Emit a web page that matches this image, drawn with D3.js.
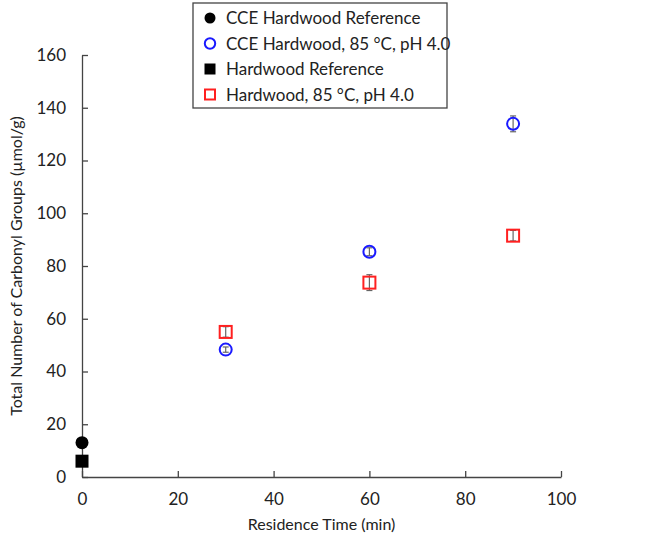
<!DOCTYPE html>
<html>
<head>
<meta charset="utf-8">
<script src="https://cdn.jsdelivr.net/npm/d3@7"></script>
<style>
  body { margin: 0; background: #fff; }
  text { font-family: Lato, "Open Sans", sans-serif; fill: #222; }
</style>
</head>
<body>
<svg id="chart" width="646" height="540"></svg>
<script>
// data
const xTicks = [0, 20, 40, 60, 80, 100];
const yTicks = [0, 20, 40, 60, 80, 100, 120, 140, 160];

const cceRefTime = [0];
const cceRefVal = [13];
const hwRefTime = [0];
const hwRefVal = [6];

const cceTime = [30, 60, 90];
const cceVal = [48.3, 85.4, 133.9];
const cceErr = [1, 1.5, 3];

const hwTime = [30, 60, 90];
const hwVal = [55, 73.7, 91.5];
const hwErr = [2, 3, 2];

const legendLabels = [
  "CCE Hardwood Reference",
  "CCE Hardwood, 85 °C, pH 4.0",
  "Hardwood Reference",
  "Hardwood, 85 °C, pH 4.0"
];

const svg = d3.select("#chart");
const margin = {left: 82, top: 55, right: 85, bottom: 63};
const width = 646 - margin.left - margin.right;
const height = 540 - margin.top - margin.bottom;

const x = d3.scaleLinear().domain([0, 100]).range([0, width]);
const y = d3.scaleLinear().domain([0, 160]).range([height, 0]);

const g = svg.append("g").attr("transform", `translate(${margin.left},${margin.top})`);

// axes
const xAxis = g.append("g")
  .attr("transform", `translate(0,${height})`)
  .call(d3.axisBottom(x).tickValues(xTicks).tickSizeInner(-6).tickSizeOuter(0).tickPadding(16));
const yAxis = g.append("g")
  .call(d3.axisLeft(y).tickValues(yTicks).tickSizeInner(-6).tickSizeOuter(0).tickPadding(16));
[xAxis, yAxis].forEach(a => {
  a.selectAll("path, line").attr("stroke", "#444").attr("stroke-width", 1.3);
  a.selectAll("text").style("font-size", "17px").style("font-family", "Lato, 'Open Sans', sans-serif").attr("fill", "#222");
});

g.append("text")
  .attr("x", width / 2).attr("y", height + 53)
  .attr("text-anchor", "middle").style("font-size", "16px")
  .text("Residence Time (min)");
g.append("text")
  .attr("transform", `translate(${-60},${height / 2}) rotate(-90)`)
  .attr("text-anchor", "middle").style("font-size", "16px")
  .text("Total Number of Carbonyl Groups (µmol/g)");

// error bars
function errBars(times, vals, errs) {
  const rows = times.map((t, i) => ({t, v: vals[i], e: errs[i]}));
  const eb = g.append("g").attr("stroke", "#666").attr("stroke-width", 1.2);
  eb.selectAll(".ev").data(rows).enter().append("line")
    .attr("x1", d => x(d.t)).attr("x2", d => x(d.t))
    .attr("y1", d => y(d.v - d.e)).attr("y2", d => y(d.v + d.e));
  eb.selectAll(".et").data(rows).enter().append("line")
    .attr("x1", d => x(d.t) - 3).attr("x2", d => x(d.t) + 3)
    .attr("y1", d => y(d.v + d.e)).attr("y2", d => y(d.v + d.e));
  eb.selectAll(".eb").data(rows).enter().append("line")
    .attr("x1", d => x(d.t) - 3).attr("x2", d => x(d.t) + 3)
    .attr("y1", d => y(d.v - d.e)).attr("y2", d => y(d.v - d.e));
}
errBars(cceTime, cceVal, cceErr);
errBars(hwTime, hwVal, hwErr);

// markers
g.selectAll(".cceRef").data(cceRefTime).enter().append("circle")
  .attr("cx", d => x(d)).attr("cy", (d, i) => y(cceRefVal[i])).attr("r", 6.5).attr("fill", "#000");
g.selectAll(".hwRef").data(hwRefTime).enter().append("rect")
  .attr("x", d => x(d) - 6.5).attr("y", (d, i) => y(hwRefVal[i]) - 6.5)
  .attr("width", 13).attr("height", 13).attr("fill", "#000");
g.selectAll(".cce").data(cceTime).enter().append("circle")
  .attr("cx", d => x(d)).attr("cy", (d, i) => y(cceVal[i])).attr("r", 6)
  .attr("fill", "none").attr("stroke", "#1a1aff").attr("stroke-width", 2);
g.selectAll(".hw").data(hwTime).enter().append("rect")
  .attr("x", d => x(d) - 6).attr("y", (d, i) => y(hwVal[i]) - 6)
  .attr("width", 12).attr("height", 12)
  .attr("fill", "none").attr("stroke", "#ff2020").attr("stroke-width", 2);

// legend
const lg = svg.append("g").attr("transform", "translate(193,3)");
lg.append("rect").attr("width", 254).attr("height", 105)
  .attr("fill", "#fff").attr("stroke", "#444").attr("stroke-width", 1.3);
const rowY = i => 15 + i * 25.5;
legendLabels.forEach((lab, i) => {
  const r = lg.append("g").attr("transform", `translate(17,${rowY(i)})`);
  if (i === 0) r.append("circle").attr("r", 5.5).attr("fill", "#000");
  if (i === 1) r.append("circle").attr("r", 5.2).attr("fill", "none").attr("stroke", "#1a1aff").attr("stroke-width", 2);
  if (i === 2) r.append("rect").attr("x", -5.5).attr("y", -5.5).attr("width", 11).attr("height", 11).attr("fill", "#000");
  if (i === 3) r.append("rect").attr("x", -5).attr("y", -5).attr("width", 10).attr("height", 10).attr("fill", "none").attr("stroke", "#ff2020").attr("stroke-width", 2);
  r.append("text").attr("x", 16).attr("y", 6).style("font-size", "17px").text(lab);
});
</script>
</body>
</html>
